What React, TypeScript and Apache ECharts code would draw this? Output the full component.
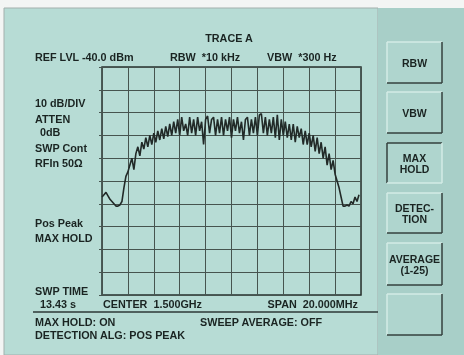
import React, { useEffect, useRef } from "react";
import * as echarts from "echarts";

// Trace A, max hold / pos peak, dBm, 130 sweep points across 1490–1510 MHz
const traceDbm: number[] = [
  -97, -96, -95, -96.5, -98, -99, -100, -101, -101, -100.5,
  -99, -93, -88, -86, -83, -80, -85, -78, -75, -79,
  -73, -76, -71, -75, -70, -74, -69, -73, -68, -72,
  -67, -71.5, -66, -70.5, -65, -70, -64, -69, -63, -70,
  -62, -68, -65, -70, -62, -69, -63, -70, -62, -68,
  -64, -74, -63, -61.5, -69, -63, -62, -70, -63, -69,
  -62, -70, -63, -68, -62, -71, -63, -68, -62, -69,
  -64, -72, -63, -62, -70, -63, -69, -62, -70, -61,
  -60.5, -69, -62, -70, -63, -69, -62, -71, -61, -72,
  -63, -70, -64, -71, -65, -72, -65, -73, -66, -71,
  -67, -74, -68, -74, -69, -75, -70, -77, -71, -78,
  -73, -80, -75, -83, -78, -85, -81, -87, -90, -93,
  -97, -101, -101, -100.5, -101, -99, -100, -97, -99, -96,
];

const refLevel = -40;
const bottomLevel = -140;
const dbPerDiv = 10;
const sweepPoints = 130;
const pointsPerDiv = 13;

const headerTitle = "TRACE A";
const headerTexts = ["REF LVL -40.0 dBm", "RBW  *10 kHz", "VBW  *300 Hz"];
const sideTexts = ["10 dB/DIV", "ATTEN", "0dB", "SWP Cont", "RFIn 50Ω", "Pos Peak", "MAX HOLD"];
const footerTexts = ["SWP TIME", "13.43 s", "CENTER  1.500GHz", "SPAN  20.000MHz"];
const statusTexts = ["MAX HOLD: ON", "SWEEP AVERAGE: OFF", "DETECTION ALG: POS PEAK"];
const buttonLabels = ["RBW", "VBW", "MAX\nHOLD", "DETEC-\nTION", "AVERAGE\n(1-25)", ""];

const FONT = "'Liberation Sans', Arial, sans-serif";
const INK = "#1a2422";

function txt(text: string, x: number, y: number, align: string = "left", size = 10.8) {
  return {
    type: "text",
    x,
    y,
    z: 20,
    style: {
      text,
      fill: INK,
      font: `bold ${size}px ${FONT}`,
      textAlign: align,
      textVerticalAlign: "middle",
    },
  };
}

function button(label: string, top: number, bottom: number, pressed: boolean) {
  const x0 = 387;
  const x1 = 442;
  const dark = "#34403e";
  const light = "#d3ebe6";
  const tl = pressed ? dark : light;
  const br = pressed ? light : dark;
  return [
    { type: "rect", z: 5, shape: { x: x0, y: top, width: x1 - x0, height: bottom - top }, style: { fill: "#afd5ce" } },
    { type: "line", z: 6, shape: { x1: x0, y1: top, x2: x1, y2: top }, style: { stroke: tl, lineWidth: 1.5 } },
    { type: "line", z: 6, shape: { x1: x0, y1: top, x2: x0, y2: bottom }, style: { stroke: tl, lineWidth: 1.5 } },
    { type: "line", z: 6, shape: { x1: x0, y1: bottom, x2: x1, y2: bottom }, style: { stroke: br, lineWidth: 1.5 } },
    { type: "line", z: 6, shape: { x1: x1, y1: top, x2: x1, y2: bottom }, style: { stroke: br, lineWidth: 1.5 } },
    {
      type: "text",
      z: 20,
      x: (x0 + x1) / 2,
      y: (top + bottom) / 2,
      style: {
        text: label,
        fill: INK,
        font: `bold 10.5px ${FONT}`,
        textAlign: "center",
        textVerticalAlign: "middle",
        lineHeight: 11,
      },
    },
  ];
}

export default function App() {
  const ref = useRef<HTMLDivElement>(null);
  useEffect(() => {
    if (!ref.current) return;
    document.body.style.margin = "0";
    const chart = echarts.init(ref.current, undefined, { renderer: "svg" });

    const data = traceDbm.map((v, i) => [i, v]);
    const buttonRows: [number, number][] = [
      [42, 83], [92, 133], [143, 183], [193, 233], [243, 285], [294, 335],
    ];

    const graphics: any[] = [
      { type: "rect", z: -10, shape: { x: 0, y: 0, width: 464, height: 355 }, style: { fill: "#f3f5f4" } },
      { type: "rect", z: -9, shape: { x: 4, y: 8, width: 374, height: 347 }, style: { fill: "#b7dcd5", stroke: "#a3afad", lineWidth: 1 } },
      { type: "rect", z: -9, shape: { x: 378, y: 8, width: 86, height: 347 }, style: { fill: "#a8cfc8" } },
      txt(headerTitle, 229, 38, "center"),
      txt(headerTexts[0], 35, 57),
      txt(headerTexts[1], 170, 57),
      txt(headerTexts[2], 267, 57),
      txt(sideTexts[0], 35, 103),
      txt(sideTexts[1], 35, 119),
      txt(sideTexts[2], 40, 132),
      txt(sideTexts[3], 35, 148),
      txt(sideTexts[4], 35, 163),
      txt(sideTexts[5], 35, 223),
      txt(sideTexts[6], 35, 238),
      txt(footerTexts[0], 35, 291),
      txt(footerTexts[1], 40, 304),
      txt(footerTexts[2], 103, 304),
      txt(footerTexts[3], 358, 304, "right"),
      { type: "line", z: 10, shape: { x1: 33, y1: 312, x2: 378, y2: 312 }, style: { stroke: "#2d3836", lineWidth: 1.5 } },
      txt(statusTexts[0], 35, 322),
      txt(statusTexts[1], 200, 322),
      txt(statusTexts[2], 35, 335),
    ];
    buttonLabels.forEach((lab, i) => {
      graphics.push(...button(lab, buttonRows[i][0], buttonRows[i][1], i === 2));
    });

    chart.setOption({
      animation: false,
      grid: {
        left: 102,
        top: 67,
        width: 259,
        height: 228,
        show: true,
        borderColor: "#26302e",
        borderWidth: 1.5,
        backgroundColor: "transparent",
      },
      xAxis: {
        type: "value",
        min: 0,
        max: sweepPoints,
        interval: pointsPerDiv,
        axisLine: { show: false },
        axisTick: { show: false },
        axisLabel: { show: false },
        splitLine: { show: true, lineStyle: { color: "#46544f", width: 1 } },
      },
      yAxis: {
        type: "value",
        min: bottomLevel,
        max: refLevel,
        interval: dbPerDiv,
        axisLine: { show: false },
        axisTick: { show: true, length: 3, inside: false, lineStyle: { color: "#46544f" } },
        axisLabel: { show: false },
        splitLine: { show: true, lineStyle: { color: "#46544f", width: 1 } },
      },
      series: [
        {
          type: "line",
          data,
          symbol: "none",
          lineStyle: { color: "#222a28", width: 1.6 },
          z: 5,
        },
      ],
      graphic: { elements: graphics },
    });
    return () => chart.dispose();
  }, []);
  return <div ref={ref} style={{ position: "fixed", left: 0, top: 0, width: 464, height: 355 }} />;
}
